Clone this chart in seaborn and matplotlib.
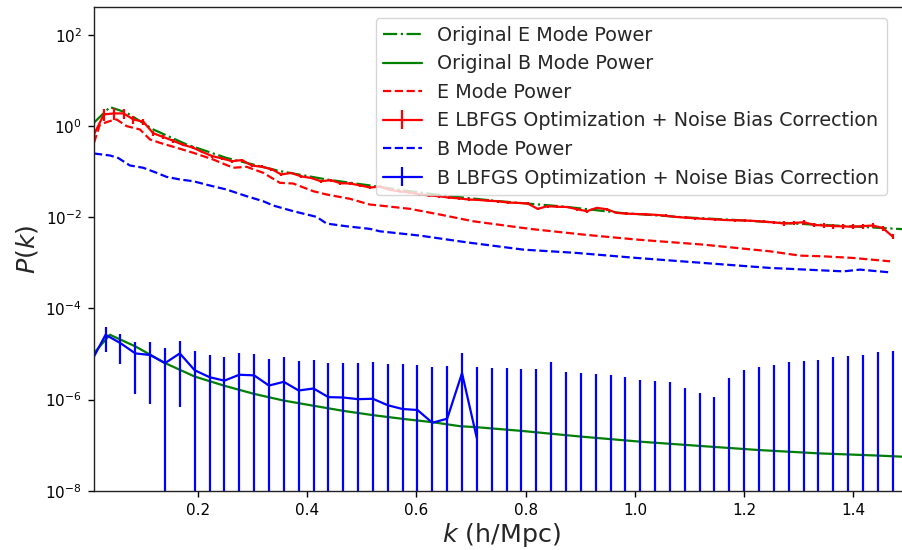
import numpy as np
import matplotlib
matplotlib.use("Agg")
import matplotlib.pyplot as plt
import seaborn as sns
from matplotlib.ticker import NullLocator, FixedLocator

# ---------------- data ----------------
# grid of the reconstructed E-mode spectrum
k_e = np.round(np.arange(82) * 0.01805 + 0.0097, 4)
e_lbfgs = [0.657, 1.81, 1.9, 1.9, 1.4, 1.25, 0.7, 0.58, 0.48, 0.39,
           0.34, 0.27, 0.22, 0.195, 0.17, 0.18, 0.137, 0.128, 0.114, 0.087,
           0.094, 0.079, 0.073, 0.062, 0.065, 0.056, 0.055, 0.05, 0.045, 0.047,
           0.040, 0.037, 0.035, 0.032, 0.030, 0.029, 0.027, 0.026, 0.0245, 0.024,
           0.023, 0.0225, 0.021, 0.0207, 0.020, 0.0153, 0.0175, 0.017, 0.0168, 0.015,
           0.0136, 0.0161, 0.015, 0.0125, 0.012, 0.0118, 0.0116, 0.0113, 0.0108, 0.0102,
           0.0098, 0.0095, 0.0092, 0.009, 0.0087, 0.0086, 0.0085, 0.0083, 0.008, 0.0077,
           0.0073, 0.0075, 0.0078, 0.0068, 0.0066, 0.0064, 0.0063, 0.0062, 0.0064, 0.0066,
           0.0058, 0.0038]
e_lbfgs_err_frac = [0.3, 0.3, 0.3, 0.25, 0.2, 0.15, 0.12, 0.1, 0.1, 0.08] + [0.07] * 60 + [0.12] * 12

# original E mode power (green dash-dot)
k_orig_e = [0.0097, 0.0388, 0.0694, 0.1181, 0.1793, 0.2525, 0.3501, 0.4356, 0.5332,
            0.576, 0.655, 0.747, 0.869, 0.973, 1.095, 1.186, 1.278, 1.40, 1.50]
orig_e = [1.19, 2.62, 1.97, 0.845, 0.396, 0.2, 0.103, 0.0675, 0.0465,
          0.039, 0.0295, 0.0228, 0.0172, 0.0125, 0.0099, 0.0087, 0.0074, 0.0063, 0.0054]

# original B mode power (green solid)
k_orig_b = [0.0097, 0.0388, 0.0858, 0.14, 0.194, 0.249, 0.303, 0.357, 0.412, 0.466,
            0.521, 0.575, 0.630, 0.680, 0.711, 0.793, 0.901, 1.01, 1.119, 1.227, 1.336,
            1.445, 1.50]
orig_b = [1.05e-5, 2.64e-5, 1.46e-5, 6.3e-6, 3.2e-6, 2.0e-6, 1.33e-6, 9.5e-7, 7.3e-7,
          5.65e-7, 4.54e-7, 3.77e-7, 3.18e-7, 2.6e-7, 2.47e-7, 2.05e-7, 1.54e-7, 1.19e-7,
          9.6e-8, 7.8e-8, 6.6e-8, 5.9e-8, 5.5e-8]

# measured E mode power (red dashed)
k_e_mode = [0.0097, 0.0205, 0.0388, 0.0511, 0.0694, 0.0938, 0.1121, 0.1304, 0.161,
            0.1914, 0.228, 0.2646, 0.2891, 0.3195, 0.3501, 0.3745, 0.4111, 0.4356,
            0.4783, 0.5149, 0.5332, 0.5882, 0.6426, 0.7041, 0.8079, 0.9055, 1.0033,
            1.1253, 1.2474, 1.3023, 1.345, 1.3999, 1.4671]
e_mode = [0.43, 1.09, 1.29, 1.4, 1.0, 0.845, 0.51, 0.43, 0.335, 0.26, 0.185, 0.122,
          0.128, 0.0946, 0.057, 0.055, 0.0373, 0.0316, 0.0254, 0.019, 0.0181, 0.0153,
          0.0115, 0.00817, 0.00556, 0.00417, 0.00324, 0.00251, 0.00179, 0.00144,
          0.00139, 0.00128, 0.00108]

# measured B mode power (blue dashed)
k_b_mode = [0.0097, 0.0388, 0.054, 0.0754, 0.0998, 0.1243, 0.1426, 0.167, 0.1914,
            0.2219, 0.2525, 0.2891, 0.3195, 0.3378, 0.3745, 0.4173, 0.4356, 0.4723,
            0.5149, 0.5332, 0.6065, 0.692, 0.7956, 0.8934, 1.0033, 1.1253, 1.2474,
            1.3816, 1.4121, 1.4671]
b_mode = [0.251, 0.227, 0.20, 0.137, 0.122, 0.0946, 0.077, 0.0675, 0.0618, 0.0497,
          0.0406, 0.029, 0.0225, 0.0181, 0.0136, 0.0102, 0.00727, 0.00634, 0.00556,
          0.00492, 0.00396, 0.00282, 0.00195, 0.00165, 0.00128, 0.000995, 0.000773,
          0.00065, 0.00071, 0.000618]

# reconstructed B mode (blue solid with error bars)
k_b = np.round(np.arange(54) * 0.02719 + 0.0309, 4)
b_first_k = 0.0097
b_first_val = 8.8e-6
# points with a positive value (first 26 bins)
b_val = [2.64e-5, 1.73e-5, 1.03e-5, 9.5e-6, 6.3e-6, 1.03e-5, 4.4e-6, 3.1e-6, 2.6e-6,
         3.5e-6, 3.4e-6, 2.03e-6, 2.45e-6, 1.58e-6, 1.75e-6, 1.13e-6, 1.11e-6, 1.02e-6,
         1.04e-6, 7.5e-7, 6.2e-7, 5.9e-7, 3.1e-7, 3.8e-7, 3.8e-6, 1.42e-7]
# upper end of every error bar (54 bins)
b_upper = [4.0e-5, 2.73e-5, 1.83e-5, 1.79e-5, 1.37e-5, 1.95e-5, 1.17e-5, 9.3e-6, 8.7e-6,
           1.05e-5, 1.01e-5, 7.7e-6, 8.5e-6, 7.1e-6, 7.5e-6, 6.5e-6, 6.5e-6, 6.2e-6,
           6.6e-6, 6.1e-6, 5.9e-6, 5.6e-6, 5.3e-6, 5.5e-6, 1.05e-5, 5.15e-6,
           4.98e-6, 4.9e-6, 4.66e-6, 4.66e-6, 6.6e-6, 4.0e-6, 3.8e-6, 3.6e-6, 3.4e-6,
           3.15e-6, 2.75e-6, 2.58e-6, 2.45e-6, 1.75e-6, 1.38e-6, 1.16e-6, 2.95e-6, 4.5e-6,
           5.15e-6, 5.7e-6, 6.6e-6, 7.0e-6, 7.5e-6, 8.4e-6, 9.1e-6, 9.7e-6, 1.1e-5, 1.17e-5]
# lower end of the error bars of the first 26 bins (0 = below the axis)
b_lower = [1.1e-5, 6.1e-6, 1.31e-6, 7.8e-7, 0, 6.8e-7, 0, 0, 0, 0, 0, 0, 0, 0, 0, 0,
           0, 0, 0, 0, 0, 0, 0, 0, 0, 0]

legend_labels = ["Original E Mode Power", "Original B Mode Power", "E Mode Power",
                 "E LBFGS Optimization + Noise Bias Correction", "B Mode Power",
                 "B LBFGS Optimization + Noise Bias Correction"]

# ---------------- plot ----------------
sns.set_style("ticks")
plt.rcParams["font.family"] = ["DejaVu Sans"]
plt.rcParams["mathtext.fontset"] = "dejavusans"

W, H = 903, 550
fig = plt.figure(figsize=(W / 100, H / 100), dpi=100)
ax_l, ax_r, ax_t, ax_b = 94, 908, 7.3, 490.7
ax = fig.add_axes([ax_l / W, (H - ax_b) / H, (ax_r - ax_l) / W, (ax_b - ax_t) / H])
ax.set_yscale("log")

lw = 1.6
sns.lineplot(x=k_orig_e, y=orig_e, ax=ax, color="green", linestyle="-.", lw=lw,
             estimator=None, sort=False)
sns.lineplot(x=k_orig_b, y=orig_b, ax=ax, color="green", linestyle="-", lw=lw,
             estimator=None, sort=False)
sns.lineplot(x=k_e_mode, y=e_mode, ax=ax, color="red", linestyle="--", lw=lw,
             estimator=None, sort=False)
h_orig_e = ax.lines[0]
h_orig_b = ax.lines[1]
h_e_mode = ax.lines[2]

e_vals = np.array(e_lbfgs)
e_err = e_vals * np.array(e_lbfgs_err_frac)
h_e = ax.errorbar(k_e, e_vals, yerr=e_err, color="red", lw=lw, elinewidth=lw)

sns.lineplot(x=k_b_mode, y=b_mode, ax=ax, color="blue", linestyle="--", lw=lw,
             estimator=None, sort=False)
h_b_mode = ax.lines[-1]

bv = np.array(b_val)
bu = np.array(b_upper)
bl = np.array(b_lower)
nv = len(bv)
kb_line = np.concatenate([[b_first_k], k_b[:nv]])
bv_line = np.concatenate([[b_first_val], bv])
sns.lineplot(x=kb_line, y=bv_line, ax=ax, color="blue", lw=lw, estimator=None, sort=False)
ax.errorbar(k_b[:nv], bv, yerr=[bv - bl, bu[:nv] - bv], fmt="none",
            ecolor="blue", elinewidth=lw)
ax.errorbar(k_b[nv:], bu[nv:], yerr=[bu[nv:], np.zeros(len(bu) - nv)], fmt="none",
            ecolor="blue", elinewidth=lw)
h_b_leg = ax.errorbar([], [], yerr=[], color="blue", lw=lw, elinewidth=lw)

ax.set_xlim(0.0097, 1.50)
ax.set_ylim(1e-8, 4.05e2)
ax.yaxis.set_major_locator(FixedLocator([1e-8, 1e-6, 1e-4, 1e-2, 1e0, 1e2]))
ax.yaxis.set_minor_locator(NullLocator())
ax.set_xticks([0.2, 0.4, 0.6, 0.8, 1.0, 1.2, 1.4])
ax.tick_params(labelsize=11, direction="out", length=4.3, width=1, pad=4.5,
               colors="black")
for s in ax.spines.values():
    s.set_visible(True)
    s.set_color("#222222")
    s.set_linewidth(1)

ax.set_xlabel("$k$ (h/Mpc)", fontsize=18.3, labelpad=2)
ax.set_ylabel("$P(k)$", fontsize=18.3)

leg_right = (886.7 - ax_l) / (ax_r - ax_l)
leg_top = (ax_b - 18) / (ax_b - ax_t)
ax.legend([h_orig_e, h_orig_b, h_e_mode, h_e, h_b_mode, h_b_leg], legend_labels,
          loc="upper right", bbox_to_anchor=(leg_right, leg_top), borderaxespad=0,
          fontsize=13.8, labelspacing=0.5, frameon=True)

fig.savefig("out.png", dpi=100)
